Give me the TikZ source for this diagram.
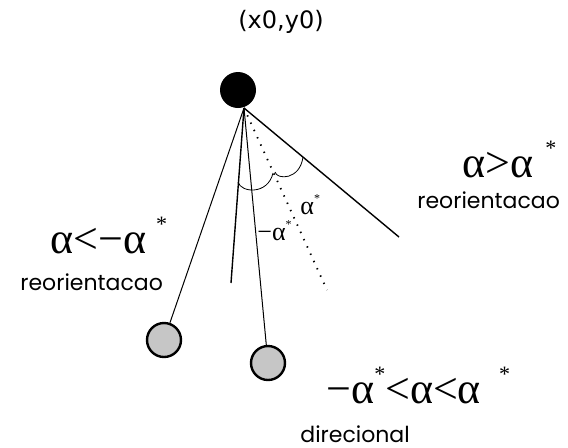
\documentclass[tikz,border=0pt]{standalone}
\usepackage{fontspec}
\setmainfont{Poppins}
\newfontfamily\grk{Liberation Serif}
\newfontfamily\coordfont{DejaVu Sans}
\newcommand{\crit}{\raisebox{0.5em}{\fontsize{11}{11}\selectfont *}}
\newcommand{\critsmall}{\raisebox{0.45em}{\fontsize{6}{6}\selectfont *}}
\begin{document}
\begin{tikzpicture}[x=0.5pt,y=-0.5pt,
    bob/.style={circle, draw, line width=1.2pt, fill=gray!45, minimum size=17pt, inner sep=0pt},
    word/.style={font=\fontsize{11}{12}\selectfont, inner sep=0pt, anchor=base west},
    rel/.style={font=\grk\fontsize{22}{24}\selectfont, inner sep=0pt, anchor=base west},
    small/.style={font=\grk\fontsize{13}{14}\selectfont, inner sep=0pt}]
            \useasboundingbox (0,0) rectangle (568,447);
            % pivot and bobs
            \node[circle, fill=black, minimum size=18pt, inner sep=0pt] (top) at (238,90) {};
            \coordinate (pivot) at (244,108);
            \node[bob] (bobL) at (164,340) {};
            \node[bob] (bobR) at (268,363) {};
            \coordinate (midend) at (231,283);
            \coordinate (dotend) at (327,290);
            \coordinate (limend) at (399,237);
            % strings
            \draw[line width=0.5pt] (pivot) -- (bobL);
            \draw[line width=0.5pt] (pivot) -- (bobR);
            \draw[line width=0.7pt] (pivot) -- (midend);
            \draw[line width=0.7pt] (pivot) -- (limend);
            \draw[line width=0.9pt, dash pattern=on 0.7pt off 3.3pt] (pivot) -- (dotend);
            % angle marks
            \draw[line width=0.4pt] (238,182) .. controls (241,193) and (268,195) .. (273,173);
            \draw[line width=0.4pt] (275,172) .. controls (277,180) and (300,180) .. (303,157);
            % labels
            \node[font=\coordfont\fontsize{12}{13}\selectfont, inner sep=0pt] (origin) at (281,22) {(x0,y0)};
            \node[small, anchor=base west] (alab) at (300,214) {α\critsmall};
            \node[small, anchor=base west] (malab) at (257,240) {\textminus α\critsmall};
            \node[rel] (upper) at (462,177) {α>α\hspace{6pt}\crit};
            \node[word] (upperw) at (417,208) {reorientacao};
            \node[rel] (lower) at (50,253) {α<\textminus α\hspace{5pt}\crit};
            \node[word] (lowerw) at (20,290) {reorientacao};
            \node[rel] (band) at (326,403) {\textminus α\crit<α<α\hspace{9pt}\crit};
            \node[word] (bandw) at (300,442) {direcional};
\end{tikzpicture}
\end{document}
